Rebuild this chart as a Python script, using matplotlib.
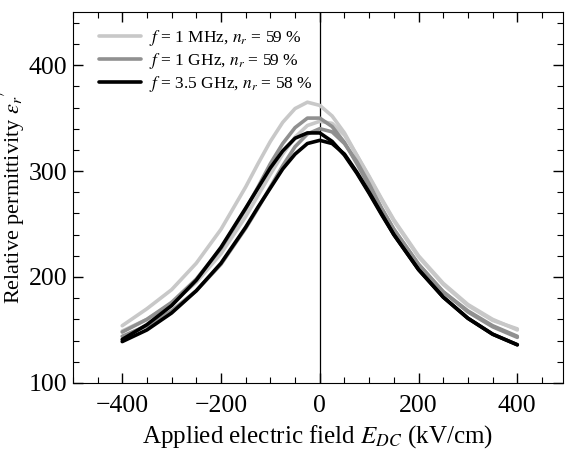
import numpy as np
import matplotlib
matplotlib.use("Agg")
import matplotlib.pyplot as plt
from matplotlib.ticker import MultipleLocator

plt.rcParams['font.family'] = ['Liberation Serif', 'DejaVu Serif']
plt.rcParams['mathtext.fontset'] = 'stix'

# Applied field (kV/cm)
field = [-400, -350, -300, -250, -200, -150, -125, -100, -75, -50, -25, 0,
         25, 50, 75, 100, 125, 150, 200, 250, 300, 350, 400]

# f = 1 MHz, two sweep branches
mhz_up = [154, 170, 188, 213, 245, 285, 307, 328, 346, 359, 365, 362,
          352, 336, 315, 294, 273, 253, 219, 193, 173, 159, 151]
mhz_dn = [149, 160, 175, 195, 222, 257, 277, 297, 316, 332, 343, 347,
          345, 334, 315, 295, 274, 254, 220, 194, 174, 160, 150]

# f = 1 GHz
ghz_up = [148, 160, 176, 198, 227, 264, 285, 307, 326, 341, 350, 350,
          342, 327, 307, 286, 265, 245, 212, 186, 168, 154, 144]
ghz_dn = [144, 154, 168, 187, 212, 246, 265, 285, 305, 323, 335, 340,
          337, 326, 309, 288, 265, 245, 212, 186, 167, 153, 143]

# f = 3.5 GHz
ghz35_up = [141, 155, 173, 197, 228, 265, 284, 303, 319, 331, 336, 336,
            328, 315, 298, 279, 259, 240, 207, 181, 161, 146, 136]
ghz35_dn = [139, 150, 166, 187, 213, 247, 266, 284, 302, 316, 326, 329,
            326, 316, 299, 280, 260, 240, 207, 181, 161, 146, 136]

labels = [r'$f$ = 1 MHz, $n_r$ = 59 %',
          r'$f$ = 1 GHz, $n_r$ = 59 %',
          r'$f$ = 3.5 GHz, $n_r$ = 58 %']
colors = ['#c8c8c8', '#909090', '#000000']
series = [(mhz_up, mhz_dn), (ghz_up, ghz_dn), (ghz35_up, ghz35_dn)]

fig = plt.figure(figsize=(5.69, 4.51), dpi=100)
ax = fig.add_axes([0.128, 0.151, 0.861, 0.822])

ax.axvline(0, color='black', lw=0.9, zorder=1)

for (up, dn), c, lab in zip(series, colors, labels):
    ax.plot(field, up, color=c, lw=2.6, label=lab, solid_capstyle='round')
    ax.plot(field, dn, color=c, lw=2.6, solid_capstyle='round')

ax.set_xlim(-500, 492)
ax.set_ylim(100, 450)
ax.xaxis.set_major_locator(MultipleLocator(200))
ax.xaxis.set_minor_locator(MultipleLocator(50))
ax.yaxis.set_major_locator(MultipleLocator(100))
ax.yaxis.set_minor_locator(MultipleLocator(20))
ax.tick_params(which='both', direction='in', top=True, right=True, labelsize=18.5)
ax.tick_params(which='major', length=7, width=1)
ax.tick_params(axis='x', which='major', pad=9)
ax.tick_params(axis='y', which='major', pad=4)
ax.tick_params(which='minor', length=4, width=0.8)

ax.set_xlabel(r'Applied electric field $E_{DC}$ (kV/cm)', fontsize=18, labelpad=4)
ax.set_ylabel(r"Relative permittivity $\varepsilon_r{}'$", fontsize=16)
ax.yaxis.set_label_coords(-0.094, 0.5)

ax.legend(loc='upper left', frameon=False, fontsize=12.5, handlelength=2.4,
          handletextpad=0.45, labelspacing=0.15, borderaxespad=0.0,
          bbox_to_anchor=(0.04, 0.975))

fig.savefig('out.png', dpi=100)
